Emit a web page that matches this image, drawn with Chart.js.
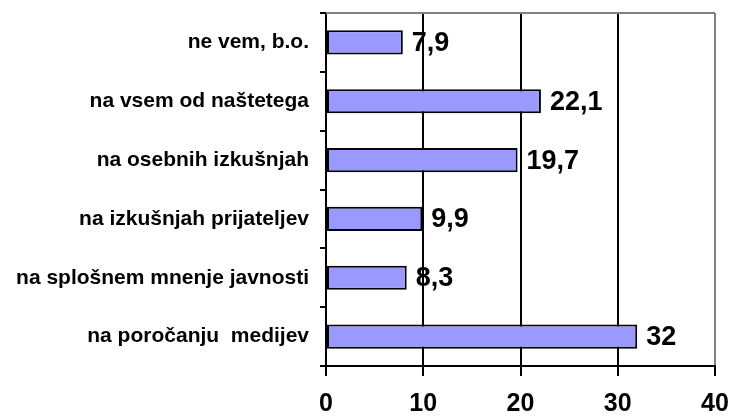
<!DOCTYPE html>
<html>
<head>
<meta charset="utf-8">
<script src="https://cdn.jsdelivr.net/npm/chart.js@4/dist/chart.umd.min.js"></script>
<style>
  html, body { margin: 0; padding: 0; background: #fff; }
  #wrap { width: 733px; height: 420px; }
</style>
</head>
<body>
<div id="wrap"><canvas id="chart" width="733" height="420"></canvas></div>
<script>
// categories top to bottom
const categories = [
  'ne vem, b.o.',
  'na vsem od naštetega',
  'na osebnih izkušnjah',
  'na izkušnjah prijateljev',
  'na splošnem mnenje javnosti',
  'na poročanju  medijev'
];
const values = [7.9, 22.1, 19.7, 9.9, 8.3, 32];
const xTicks = [0, 10, 20, 30, 40];

const FONT = '"Liberation Sans", Arial, sans-serif';

// value labels right of each bar, decimal comma
const barLabels = {
  id: 'barLabels',
  afterDatasetsDraw(chart) {
    const ctx = chart.ctx;
    const meta = chart.getDatasetMeta(0);
    ctx.save();
    ctx.font = 'bold 27px ' + FONT;
    ctx.fillStyle = '#000';
    ctx.textAlign = 'left';
    ctx.textBaseline = 'middle';
    meta.data.forEach((bar, i) => {
      const txt = String(values[i]).replace('.', ',');
      ctx.fillText(txt, bar.x + 9, bar.y + 1);
    });
    ctx.restore();
  }
};

// gray frame line along the top of the plot
const topBorder = {
  id: 'topBorder',
  beforeDatasetsDraw(chart) {
    const { ctx, chartArea: a } = chart;
    ctx.save();
    ctx.strokeStyle = '#808080';
    ctx.lineWidth = 2;
    ctx.beginPath();
    ctx.moveTo(a.left, a.top);
    ctx.lineTo(a.right, a.top);
    ctx.stroke();
    ctx.restore();
  }
};

new Chart(document.getElementById('chart'), {
  type: 'bar',
  data: {
    labels: categories,
    datasets: [{
      data: values,
      backgroundColor: '#9999ff',
      borderColor: '#000',
      borderWidth: 2,
      borderSkipped: false,
      categoryPercentage: 1,
      barPercentage: 0.41
    }]
  },
  options: {
    indexAxis: 'y',
    responsive: false,
    animation: false,
    layout: { padding: { top: 13, right: 18, left: 0, bottom: 0 } },
    plugins: { legend: { display: false }, tooltip: { enabled: false } },
    scales: {
      x: {
        min: 0, max: 40,
        afterBuildTicks: s => { s.ticks = xTicks.map(v => ({ value: v })); },
        afterFit: s => { s.height = 54; s.paddingLeft = 0; s.paddingRight = 0; },
        grid: {
          color: c => (c.tick && c.tick.value === 40 ? '#808080' : '#000'),
          lineWidth: 2,
          tickColor: '#000',
          tickLength: 10
        },
        border: { color: '#000', width: 2 },
        ticks: { color: '#000', padding: 13, font: { family: FONT, size: 25, weight: 'bold' } }
      },
      y: {
        afterFit: s => { s.width = 326; s.paddingTop = 0; s.paddingBottom = 0; },
        grid: {
          drawOnChartArea: false,
          color: '#000',
          lineWidth: 2,
          tickLength: 6,
          offset: true
        },
        border: { color: '#000', width: 2 },
        ticks: { color: '#000', padding: 11, font: { family: FONT, size: 21, weight: 'bold' } }
      }
    }
  },
  plugins: [topBorder, barLabels]
});
</script>
</body>
</html>
